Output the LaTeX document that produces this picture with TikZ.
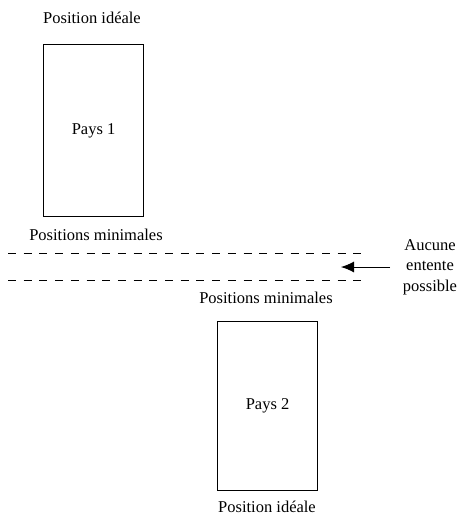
\documentclass[tikz,border=0pt]{standalone}
\usepackage{fontspec}
\setmainfont{Liberation Serif}
\usetikzlibrary{arrows.meta}

\begin{document}
\begin{tikzpicture}[x=1pt,y=-1pt,
  lbl/.style={inner sep=0pt,font=\fontsize{16.5}{20.5}\selectfont},
  pays/.style={draw,line width=1.1pt,minimum width=100pt,anchor=north west,inner sep=0pt,font=\fontsize{16.5}{18}\selectfont},
  minline/.style={line width=0.9pt,dash pattern=on 8pt off 7.7pt}]
\useasboundingbox (0,0) rectangle (458,523);
% pays 1
\node[pays,minimum height=172pt] (pays1) at (43,44) {Pays 1};
\node[lbl] (ideal1) at (92,18) {Position idéale};
\node[lbl] (min1) at (96,235) {Positions minimales};
% zone sans entente
\coordinate (d1a) at (8,253);
\coordinate (d1b) at (362,253);
\coordinate (d2a) at (8,280);
\coordinate (d2b) at (362,280);
\draw[minline] (d1a) -- (d1b);
\draw[minline] (d2a) -- (d2b);
\node[lbl,align=center] (aucune) at (430,267) {Aucune\\entente\\possible};
\coordinate (flstart) at (390,267);
\coordinate (fltip) at (341,267);
\draw[line width=0.9pt,-{Latex[length=13pt,width=11pt]}] (flstart) -- (fltip);
% pays 2
\node[lbl] (min2) at (266,298) {Positions minimales};
\node[pays,minimum height=169pt] (pays2) at (217,321) {Pays 2};
\node[lbl] (ideal2) at (267,507) {Position idéale};
\end{tikzpicture}
\end{document}
